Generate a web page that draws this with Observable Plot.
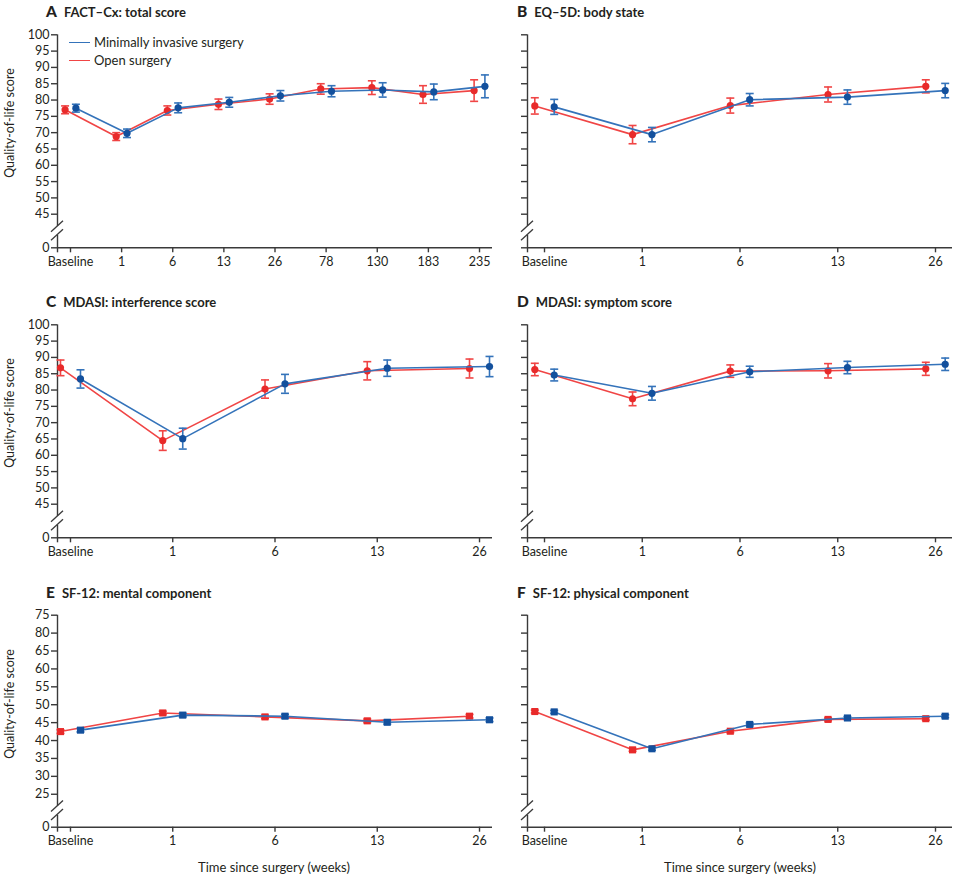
<!DOCTYPE html>
<html>
<head>
<meta charset="utf-8">
<script src="https://cdn.jsdelivr.net/npm/d3@7"></script>
<script src="https://cdn.jsdelivr.net/npm/@observablehq/plot@0.6"></script>
<style>
  html, body { margin: 0; padding: 0; background: #fff; }
  #wrap { position: relative; width: 956px; height: 878px; font-family: Lato, "Open Sans", sans-serif; color: #231f20; overflow: hidden; }
  .pnl { position: absolute; }
  .ttl { position: absolute; font-weight: 700; font-size: 13px; white-space: nowrap; line-height: 1; }
  .ttl b { font-size: 15.5px; margin-right: 7px; }
  .ylab { position: absolute; font-size: 12.5px; white-space: nowrap; transform: translate(-50%, -50%) rotate(-90deg); line-height: 1; }
  .xlab { position: absolute; font-size: 13px; white-space: nowrap; transform: translate(-50%, -50%); line-height: 1; }
  .leg { position: absolute; font-size: 13px; white-space: nowrap; line-height: 1; }
  .leg span.sw { display: inline-block; width: 21px; height: 0; border-top: 1.7px solid; vertical-align: middle; margin-right: 4px; }
  .leg div { height: 18px; display: flex; align-items: center; }
</style>
</head>
<body>
<div id="wrap"></div>
<script>
// ---------- data ----------
const catsLong = ["Baseline", "1", "6", "13", "26", "78", "130", "183", "235"];
const catsShort = ["Baseline", "1", "6", "13", "26"];

const seriesNames = ["Minimally invasive surgery", "Open surgery"];

// A: FACT-Cx total score
const factMis = [77.5, 69.8, 77.6, 79.3, 81.3, 82.7, 83.1, 82.5, 84.2];
const factMisErr = [1.2, 1.3, 1.5, 1.5, 1.6, 1.7, 2.2, 2.4, 3.5];
const factOpen = [77.0, 68.8, 76.8, 78.7, 80.3, 83.4, 83.8, 81.7, 82.9];
const factOpenErr = [1.2, 1.2, 1.4, 1.6, 1.6, 1.6, 2.1, 2.7, 3.3];

// B: EQ-5D body state
const eqMis = [77.9, 69.4, 80.1, 80.9, 82.9];
const eqMisErr = [2.3, 2.2, 1.9, 2.2, 2.2];
const eqOpen = [78.2, 69.4, 78.3, 81.7, 84.2];
const eqOpenErr = [2.5, 2.8, 2.3, 2.3, 2.0];

// C: MDASI interference score
const intMis = [83.4, 65.1, 81.9, 86.7, 87.2];
const intMisErr = [2.8, 3.2, 2.9, 2.5, 3.1];
const intOpen = [86.8, 64.5, 80.3, 85.9, 86.6];
const intOpenErr = [2.4, 3.0, 2.8, 2.8, 2.9];

// D: MDASI symptom score
const symMis = [84.6, 79.0, 85.6, 86.9, 87.9];
const symMisErr = [1.8, 2.1, 1.7, 1.9, 1.9];
const symOpen = [86.3, 77.3, 85.8, 85.9, 86.5];
const symOpenErr = [1.9, 2.1, 1.9, 2.2, 2.0];

// E: SF-12 mental component
const mentMis = [42.9, 47.1, 46.8, 45.1, 45.8];
const mentMisErr = [0.5, 0.5, 0.5, 0.5, 0.5];
const mentOpen = [42.5, 47.7, 46.6, 45.5, 46.8];
const mentOpenErr = [0.5, 0.5, 0.5, 0.5, 0.5];

// F: SF-12 physical component
const physMis = [48.0, 37.7, 44.5, 46.3, 46.8];
const physMisErr = [0.4, 0.4, 0.4, 0.4, 0.4];
const physOpen = [48.1, 37.4, 42.6, 45.9, 46.1];
const physOpenErr = [0.4, 0.4, 0.4, 0.4, 0.4];

// tick values and labels
const yTicks100 = [0, 45, 50, 55, 60, 65, 70, 75, 80, 85, 90, 95, 100];
const yLabels100 = ["0", "45", "50", "55", "60", "65", "70", "75", "80", "85", "90", "95", "100"];
const yTicks75 = [0, 25, 30, 35, 40, 45, 50, 55, 60, 65, 70, 75];
const yLabels75 = ["0", "25", "30", "35", "40", "45", "50", "55", "60", "65", "80", "75"];

const panelTitles = [
  ["A", "FACT–Cx: total score"],
  ["B", "EQ–5D: body state"],
  ["C", "MDASI: interference score"],
  ["D", "MDASI: symptom score"],
  ["E", "SF-12: mental component"],
  ["F", "SF-12: physical component"]
];
const yTitle = "Quality-of-life score";
const xTitle = "Time since surgery (weeks)";

// ---------- styles ----------
const lineBlue = "#3473ba", dotBlue = "#13509d";
const lineRed = "#f04545", dotRed = "#e82a2a";
const axisCol = "#3a3a3a";

const wrap = document.getElementById("wrap");

const capSymbol = {
  draw(ctx) { ctx.moveTo(-4, 0); ctx.lineTo(4, 0); }
};

function makePanel(cfg) {
  const { cats, mis, misErr, open, openErr, ticks, labels, showLabels,
          zeroPos, yMax, symbol, r, offset, pad, left, top, width, height,
          marginLeft, marginRight, marginTop, marginBottom } = cfg;
  const n = cats.length;
  const xmin = -pad, xmax = n - 1 + pad;
  const yPos = v => (v === 0 ? zeroPos : v);
  const tickPos = ticks.map(yPos);
  const labelMap = new Map(tickPos.map((p, i) => [p, labels[i]]));
  const breakVal = (zeroPos + ticks[1]) / 2;
  const rows = (vals, errs) => vals.map((v, i) => ({ i, v, lo: v - errs[i], hi: v + errs[i] }));
  const M = rows(mis, misErr), O = rows(open, openErr);

  const seriesMarks = (data, lc, dc, dx) => [
    Plot.line(data, { x: "i", y: "v", stroke: lc, strokeWidth: 1.6, dx }),
    Plot.ruleX(data, { x: "i", y1: "lo", y2: "hi", stroke: lc, strokeWidth: 1.6, dx }),
    Plot.dot(data, { x: "i", y: "lo", symbol: capSymbol, stroke: lc, strokeWidth: 1.6, dx }),
    Plot.dot(data, { x: "i", y: "hi", symbol: capSymbol, stroke: lc, strokeWidth: 1.6, dx }),
    Plot.dot(data, { x: "i", y: "v", symbol, r, fill: dc, stroke: "none", dx })
  ];

  const breakMark = (index, scales) => {
    const x = scales.x(xmin), y = scales.y(breakVal);
    const g = d3.create("svg:g");
    g.append("rect").attr("x", x - 3).attr("y", y - 4.5).attr("width", 6).attr("height", 9).attr("fill", "white");
    for (const o of [-4.3, 4.3]) {
      g.append("line")
        .attr("x1", x - 6).attr("y1", y + o + 5.5)
        .attr("x2", x + 6).attr("y2", y + o - 5.5)
        .attr("stroke", axisCol).attr("stroke-width", 1.3);
    }
    return g.node();
  };

  const plot = Plot.plot({
    width, height, marginLeft, marginRight, marginTop, marginBottom,
    style: { background: "transparent", fontFamily: "Lato, 'Open Sans', sans-serif", color: "#231f20" },
    x: { type: "linear", domain: [xmin, xmax] },
    y: { type: "linear", domain: [zeroPos, yMax] },
    marks: [
      Plot.ruleY([zeroPos], { stroke: axisCol, strokeWidth: 1.4 }),
      Plot.ruleX([xmin], { y1: zeroPos, y2: yMax, stroke: axisCol, strokeWidth: 1.4 }),
      breakMark,
      Plot.axisY({
        ticks: tickPos, tickSize: 6, tickPadding: 2, stroke: axisCol, strokeWidth: 1.4,
        tickFormat: d => (showLabels ? labelMap.get(d) : ""), fontSize: 12.5, label: null
      }),
      Plot.axisX({
        ticks: [xmin, ...d3.range(n)], tickSize: 5, tickPadding: 4, stroke: axisCol, strokeWidth: 1.4,
        tickFormat: d => (Number.isInteger(d) ? cats[d] : ""), fontSize: 12.5, label: null
      }),
      ...seriesMarks(O, lineRed, dotRed, -offset),
      ...seriesMarks(M, lineBlue, dotBlue, offset)
    ]
  });
  plot.classList.add("pnl");
  plot.style.left = left + "px";
  plot.style.top = top + "px";
  wrap.appendChild(plot);
}

const leftCol = { left: 0, width: 500, marginLeft: 57, marginRight: 8 };
const rightCol = { left: 480, width: 476, marginLeft: 47, marginRight: 4 };
const row1 = { top: 0, height: 290, marginTop: 34.3, marginBottom: 42.7 };
const row2 = { top: 290, height: 290, marginTop: 34.3, marginBottom: 42.7 };
const row3 = { top: 580, height: 290, marginTop: 34.7, marginBottom: 43.3 };
const scale100 = { ticks: yTicks100, labels: yLabels100, zeroPos: 34.7, yMax: 100 };
const scale75 = { ticks: yTicks75, labels: yLabels75, zeroPos: 15.8, yMax: 75 };
const circ = { symbol: "circle", r: 3.6 };
const sq = { symbol: "square", r: 4 };

makePanel({ ...leftCol, ...row1, ...scale100, ...circ, showLabels: true, cats: catsLong, pad: 0.254, offset: 5.4,
  mis: factMis, misErr: factMisErr, open: factOpen, openErr: factOpenErr });
makePanel({ ...rightCol, ...row1, ...scale100, ...circ, showLabels: false, cats: catsShort, pad: 0.174, offset: 9.7,
  mis: eqMis, misErr: eqMisErr, open: eqOpen, openErr: eqOpenErr });
makePanel({ ...leftCol, ...row2, ...scale100, ...circ, showLabels: true, cats: catsShort, pad: 0.127, offset: 10,
  mis: intMis, misErr: intMisErr, open: intOpen, openErr: intOpenErr });
makePanel({ ...rightCol, ...row2, ...scale100, ...circ, showLabels: false, cats: catsShort, pad: 0.174, offset: 9.7,
  mis: symMis, misErr: symMisErr, open: symOpen, openErr: symOpenErr });
makePanel({ ...leftCol, ...row3, ...scale75, ...sq, showLabels: true, cats: catsShort, pad: 0.127, offset: 10,
  mis: mentMis, misErr: mentMisErr, open: mentOpen, openErr: mentOpenErr });
makePanel({ ...rightCol, ...row3, ...scale75, ...sq, showLabels: false, cats: catsShort, pad: 0.174, offset: 9.7,
  mis: physMis, misErr: physMisErr, open: physOpen, openErr: physOpenErr });

// ---------- titles and labels ----------
const titlePos = [[46, 4], [517, 4], [46, 294], [517, 294], [46, 585], [517, 585]];
panelTitles.forEach(([letter, text], k) => {
  const d = document.createElement("div");
  d.className = "ttl";
  d.style.left = titlePos[k][0] + "px";
  d.style.top = titlePos[k][1] + "px";
  d.innerHTML = `<b></b><span></span>`;
  d.querySelector("b").textContent = letter;
  d.querySelector("span").textContent = text;
  wrap.appendChild(d);
});

[[10, 123], [10, 413], [10, 704]].forEach(([x, y]) => {
  const d = document.createElement("div");
  d.className = "ylab";
  d.style.left = x + "px";
  d.style.top = y + "px";
  d.textContent = yTitle;
  wrap.appendChild(d);
});

[[274, 867], [740, 867]].forEach(([x, y]) => {
  const d = document.createElement("div");
  d.className = "xlab";
  d.style.left = x + "px";
  d.style.top = y + "px";
  d.textContent = xTitle;
  wrap.appendChild(d);
});

// legend
const leg = document.createElement("div");
leg.className = "leg";
leg.style.left = "69px";
leg.style.top = "33px";
[[seriesNames[0], lineBlue], [seriesNames[1], lineRed]].forEach(([name, col]) => {
  const row = document.createElement("div");
  const sw = document.createElement("span");
  sw.className = "sw";
  sw.style.borderColor = col;
  const t = document.createElement("span");
  t.textContent = name;
  row.appendChild(sw);
  row.appendChild(t);
  leg.appendChild(row);
});
wrap.appendChild(leg);
</script>
</body>
</html>
